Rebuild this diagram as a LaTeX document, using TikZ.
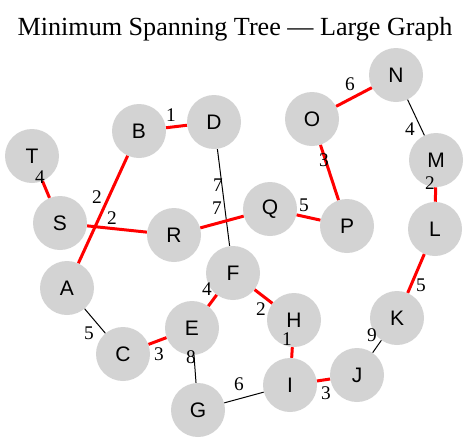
\documentclass[tikz,border=0pt]{standalone}
\usepackage{fontspec}
\setmainfont{Liberation Serif}
\setsansfont{Liberation Sans}
\usepackage{tikz}
\definecolor{vgray}{RGB}{211,211,211}

\begin{document}
\begin{tikzpicture}[x=0.75pt,y=-0.75pt,
vert/.style={circle,fill=vgray,minimum size=40.5pt,inner sep=0pt,font=\sffamily\fontsize{15.75}{16}\selectfont},
tree/.style={red,line width=2.25pt},
other/.style={black,line width=0.75pt},
wt/.style={inner sep=0pt,font=\fontsize{14.5}{15}\selectfont}]
\useasboundingbox (0,0) rectangle (471,443);
\node (title) at (235,29) {\fontsize{19.6}{20}\selectfont Minimum Spanning Tree --- Large Graph};

% vertices
\node (T) [vert] at (32,156) {T};
\node (S) [vert] at (60,223) {S};
\node (A) [vert] at (67,288) {A};
\node (B) [vert] at (139,131) {B};
\node (D) [vert] at (214,122) {D};
\node (R) [vert] at (174,235) {R};
\node (C) [vert] at (123,354) {C};
\node (E) [vert] at (192,328) {E};
\node (F) [vert] at (233,273) {F};
\node (G) [vert] at (198,410) {G};
\node (H) [vert] at (294,320) {H};
\node (I) [vert] at (290,385) {I};
\node (J) [vert] at (357,375) {J};
\node (K) [vert] at (397,318) {K};
\node (Q) [vert] at (270,209) {Q};
\node (P) [vert] at (347,226) {P};
\node (O) [vert] at (312,119) {O};
\node (N) [vert] at (396,75) {N};
\node (M) [vert] at (436,160) {M};
\node (L) [vert] at (435,229) {L};

% edges
\draw [tree] (T) -- (S);
\draw [tree] (S) -- (R);
\draw [tree] (A) -- (B);
\draw [tree] (B) -- (D);
\draw [other] (D) -- (F);
\draw [tree] (R) -- (Q);
\draw [tree] (Q) -- (P);
\draw [tree] (O) -- (P);
\draw [tree] (O) -- (N);
\draw [other] (N) -- (M);
\draw [tree] (M) -- (L);
\draw [tree] (L) -- (K);
\draw [other] (K) -- (J);
\draw [tree] (J) -- (I);
\draw [tree] (I) -- (H);
\draw [tree] (H) -- (F);
\draw [tree] (F) -- (E);
\draw [tree] (E) -- (C);
\draw [other] (A) -- (C);
\draw [other] (E) -- (G);
\draw [other] (G) -- (I);

% weights
\node (wTS) [wt] at (40,177) {4};
\node (wSR) [wt] at (112,218) {2};
\node (wAB) [wt] at (97,197) {2};
\node (wBD) [wt] at (171,115) {1};
\node (wDF) [wt] at (218,185) {7};
\node (wRQ) [wt] at (217,208) {7};
\node (wQP) [wt] at (304,205) {5};
\node (wOP) [wt] at (324,160) {3};
\node (wON) [wt] at (350,84) {6};
\node (wNM) [wt] at (410,129) {4};
\node (wML) [wt] at (430,183) {2};
\node (wLK) [wt] at (421,285) {5};
\node (wKJ) [wt] at (372,335) {9};
\node (wIJ) [wt] at (326,393) {3};
\node (wHI) [wt] at (287,339) {1};
\node (wFH) [wt] at (261,309) {2};
\node (wFE) [wt] at (207,289) {4};
\node (wEC) [wt] at (159,354) {3};
\node (wAC) [wt] at (89,333) {5};
\node (wEG) [wt] at (191,357) {8};
\node (wGI) [wt] at (239,384) {6};
\end{tikzpicture}
\end{document}
